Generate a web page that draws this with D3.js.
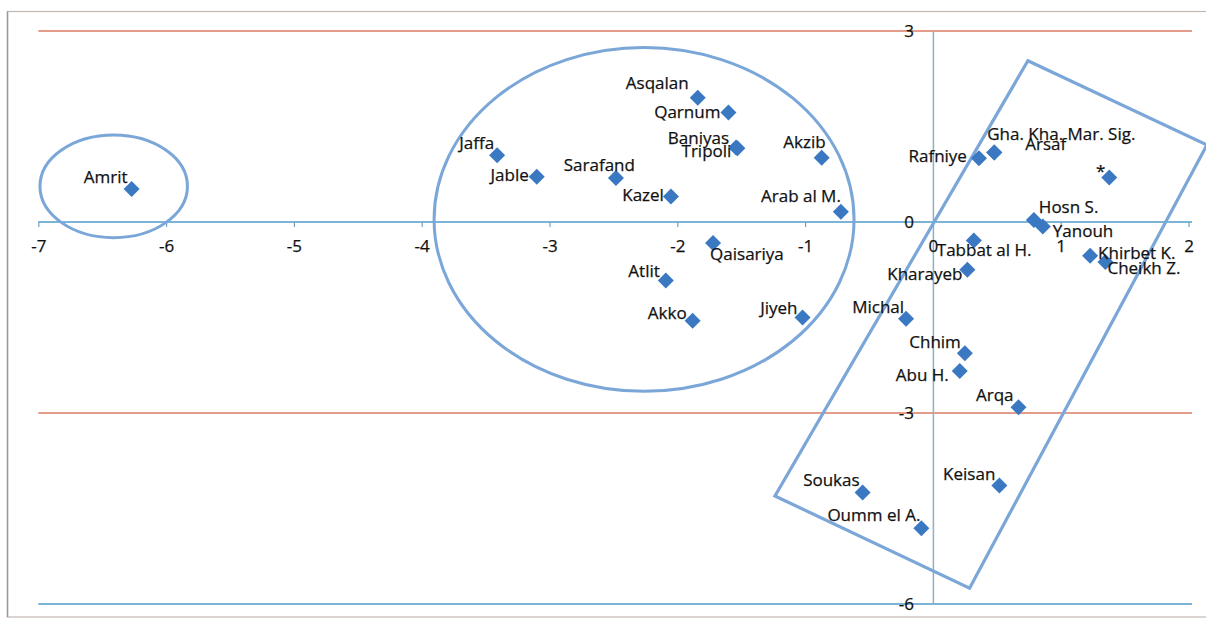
<!DOCTYPE html>
<html>
<head>
<meta charset="utf-8">
<script src="https://cdn.jsdelivr.net/npm/d3@7"></script>
<style>
  html, body { margin: 0; padding: 0; background: #ffffff; }
  svg { display: block; }
  text { font-family: "Open Sans", "DejaVu Sans", sans-serif; fill: #111111; stroke: #111111; stroke-width: 0.25px; }
</style>
</head>
<body>
<svg id="chart" width="1206" height="619"></svg>
<script>
// ---------- data ----------
const names = ["Amrit", "Asqalan", "Qarnum", "Baniyas", "Tripoli", "Akzib", "Jaffa", "Jable",
  "Sarafand", "Kazel", "Arab al M.", "Qaisariya", "Atlit", "Akko", "Jiyeh", "Michal",
  "Chhim", "Abu H.", "Arqa", "Keisan", "Soukas", "Oumm el A.", "Rafniye",
  "Gha. Kha. Mar. Sig.", "Arsaf", "*", "Hosn S.", "Yanouh", "Tabbat al H.", "Kharayeb",
  "Khirbet K.", "Cheikh Z."];
const xValues = [-6.27, -1.84, -1.60, -1.54, -1.53, -0.87, -3.41, -3.10,
  -2.48, -2.05, -0.72, -1.72, -2.09, -1.88, -1.02, -0.21,
  0.25, 0.21, 0.67, 0.52, -0.55, -0.09, 0.36,
  0.48, 0.48, 1.38, 0.79, 0.86, 0.32, 0.27,
  1.23, 1.35];
const yValues = [0.52, 1.95, 1.72, 1.17, 1.16, 1.01, 1.05, 0.71,
  0.69, 0.40, 0.16, -0.33, -0.92, -1.55, -1.50, -1.52,
  -2.06, -2.34, -2.91, -4.14, -4.25, -4.81, 1.00,
  1.09, 1.09, 0.70, 0.03, -0.07, -0.29, -0.75,
  -0.53, -0.63];
const xTicks = [-7, -6, -5, -4, -3, -2, -1, 0, 1, 2];
const yTicks = [3, 0, -3, -6];
const xTickLabels = ["-7", "-6", "-5", "-4", "-3", "-2", "-1", "0", "1", "2"];
const yTickLabels = ["3", "0", "-3", "-6"];

// annotation shapes (data units)
const groupEllipses = [
  { cx: -6.41, cy: 0.56, rx: 0.577, ry: 0.806 },
  { cx: -2.26, cy: 0.04, rx: 1.643, ry: 2.70 }
];
const groupPolygonX = [0.743, 2.144, 0.287, -1.236];
const groupPolygonY = [2.533, 1.209, -5.753, -4.303];

// ---------- label placement (layout, not data) ----------
const labelLayout = {
  "Amrit": ["end", -4, -6], "Asqalan": ["end", -9, -9], "Qarnum": ["end", -8, 6],
  "Baniyas": ["end", -7, -4], "Tripoli": ["end", -6, 9], "Akzib": ["end", 4, -10],
  "Jaffa": ["end", -3, -6], "Jable": ["end", -8, 4], "Sarafand": ["end", 19, -7],
  "Kazel": ["end", -7, 4], "Arab al M.": ["end", 0, -10], "Qaisariya": ["start", -3, 17],
  "Atlit": ["end", -6, -4], "Akko": ["end", -6, -2], "Jiyeh": ["end", -5, -4],
  "Michal": ["end", -2, -6], "Chhim": ["end", -4, -5], "Abu H.": ["end", -11, 10],
  "Arqa": ["end", -5, -6], "Keisan": ["end", -4, -6], "Soukas": ["end", -3, -7],
  "Oumm el A.": ["end", -1, -7], "Rafniye": ["end", -12, 4],
  "Gha. Kha. Mar. Sig.": ["start", -7, -13], "Arsaf": ["start", 31, -3],
  "*": ["end", -4, 0], "Hosn S.": ["start", 5, -7], "Yanouh": ["start", 10, 11],
  "Tabbat al H.": ["start", -37, 16], "Kharayeb": ["end", -5, 10],
  "Khirbet K.": ["start", 8, 3], "Cheikh Z.": ["start", 2, 12]
};

// ---------- drawing ----------
const svg = d3.select("#chart");
const x = d3.scaleLinear().domain([-7, 2]).range([38.3, 1188.5]);
const y = d3.scaleLinear().domain([-6, 3]).range([604, 31]);

// outer frame
svg.append("rect").attr("x", 7.5).attr("y", 11.5).attr("width", 1210).attr("height", 605.5)
  .attr("fill", "none").attr("stroke", "#c4b8b2").attr("stroke-width", 1.2);
svg.append("line").attr("x1", 7.5).attr("x2", 7.5).attr("y1", 11.5).attr("y2", 617)
  .attr("stroke", "#9a9a9a").attr("stroke-width", 1.5);

// horizontal gridlines
const gridColor = v => (v === 3 || v === -3) ? "#dc7d64" : "#4f9bc8";
svg.append("g").selectAll("line").data(yTicks).join("line")
  .attr("x1", x(-7)).attr("x2", x(2) + 3.5)
  .attr("y1", d => y(d)).attr("y2", d => y(d))
  .attr("stroke", gridColor).attr("stroke-width", 1.3);

// vertical axis (x = 0)
const yAxis = d3.axisLeft(y).tickValues(yTicks).tickSize(0).tickPadding(19)
  .tickFormat((d, i) => yTickLabels[i]);
const gy = svg.append("g").attr("transform", `translate(${x(0)},0)`).call(yAxis);
gy.select(".domain").attr("stroke", "#8fb0c2").attr("stroke-width", 1.5);
gy.selectAll("text").attr("font-size", 17).attr("fill", "#111111");

// horizontal axis ticks and labels (y = 0)
const xAxis = d3.axisBottom(x).tickValues(xTicks).tickSize(5).tickPadding(13)
  .tickFormat((d, i) => xTickLabels[i]);
const gx = svg.append("g").attr("transform", `translate(0,${y(0)})`).call(xAxis);
gx.select(".domain").remove();
gx.selectAll(".tick line").attr("stroke", "#6ea4c6").attr("stroke-width", 1.2);
gx.selectAll("text").attr("font-size", 17).attr("fill", "#111111");

// annotation shapes
const shapeColor = "#7aa6d8";
svg.append("g").selectAll("ellipse").data(groupEllipses).join("ellipse")
  .attr("cx", d => x(d.cx)).attr("cy", d => y(d.cy))
  .attr("rx", d => x(d.cx + d.rx) - x(d.cx)).attr("ry", d => y(d.cy) - y(d.cy + d.ry))
  .attr("fill", "none").attr("stroke", shapeColor).attr("stroke-width", 3);
svg.append("polygon")
  .attr("points", groupPolygonX.map((v, i) => `${x(v)},${y(groupPolygonY[i])}`).join(" "))
  .attr("fill", "none").attr("stroke", shapeColor).attr("stroke-width", 3.2)
  .attr("stroke-linejoin", "miter");

// points
const pts = names.map((n, i) => ({ name: n, x: xValues[i], y: yValues[i] }));
const h = 8;
svg.append("g").selectAll("path").data(pts).join("path")
  .attr("d", `M0,${-h}L${h},0L0,${h}L${-h},0Z`)
  .attr("transform", d => `translate(${x(d.x)},${y(d.y)})`)
  .attr("fill", "#3a78c2");

// labels
svg.append("g").selectAll("text").data(pts).join("text")
  .attr("x", d => x(d.x) + labelLayout[d.name][1])
  .attr("y", d => y(d.y) + labelLayout[d.name][2])
  .attr("text-anchor", d => labelLayout[d.name][0])
  .attr("font-size", 17)
  .text(d => d.name);
</script>
</body>
</html>
